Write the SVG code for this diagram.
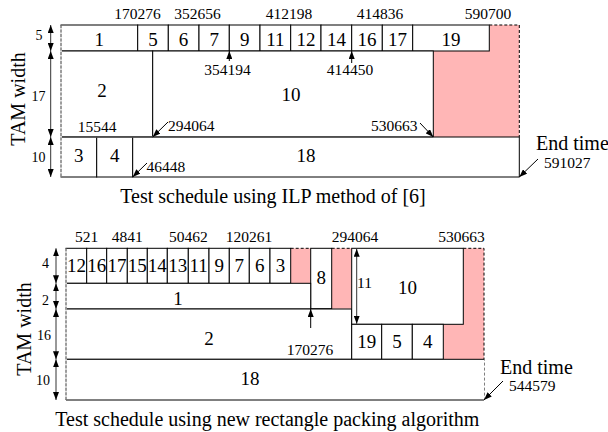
<svg xmlns="http://www.w3.org/2000/svg" width="608" height="432" viewBox="0 0 608 432">
  <style>
    text { font-family: "Liberation Serif", "Times New Roman", serif; fill: #000; }
    .lbl { font-size: 19px; text-anchor: middle; }
    .num { font-size: 15.5px; text-anchor: middle; }
    .numl { font-size: 15.5px; text-anchor: start; }
    .unit { font-size: 14px; text-anchor: middle; }
    .cap { font-size: 20px; text-anchor: middle; }
    .axis { font-size: 20px; text-anchor: middle; }
    .end { font-size: 20px; text-anchor: start; }
    .box { fill: #fff; stroke: #000; stroke-width: 1; }
    .idle { fill: #ffb6b6; stroke: none; }
    .dash { fill: none; stroke: #000; stroke-width: 1; stroke-dasharray: 3 2; }
    .edge { fill: none; stroke: #fff; stroke-width: 1.6; }
    .edge-dash { fill: none; stroke: #555; stroke-width: 1; stroke-dasharray: 3 1.5; }
    .seam { fill: none; stroke: #555; stroke-width: 1.6; }
    .dim { fill: none; stroke: #333; stroke-width: 1; marker-start: url(#head); marker-end: url(#head); }
    .ptr { fill: none; stroke: #000; stroke-width: 1; marker-end: url(#head); }
  </style>
  <defs>
    <marker id="head" markerUnits="userSpaceOnUse" markerWidth="8" markerHeight="6" refX="8" refY="3" orient="auto-start-reverse">
      <path d="M0,0 L8,3 L0,6 z" fill="#000"/>
    </marker>
  </defs>

  <!-- ===== Schedule 1: ILP method ===== -->
  <g id="ilp-idle">
    <polygon class="idle" points="489.3,25 519.3,25 519.3,137 433.3,137 433.3,51 489.3,51"/>
    <path class="dash" d="M489.3,25 H519.3 V137"/>
  </g>
  <g id="ilp-row5">
    <rect class="box" x="61" y="25" width="76.7" height="26"/>
    <rect class="box" x="137.7" y="25" width="30.6" height="26"/>
    <rect class="box" x="168.3" y="25" width="30.7" height="26"/>
    <rect class="box" x="199" y="25" width="30.3" height="26"/>
    <rect class="box" x="229.3" y="25" width="30.7" height="26"/>
    <rect class="box" x="260" y="25" width="30.7" height="26"/>
    <rect class="box" x="290.7" y="25" width="30.3" height="26"/>
    <rect class="box" x="321" y="25" width="30.7" height="26"/>
    <rect class="box" x="351.7" y="25" width="30.6" height="26"/>
    <rect class="box" x="382.3" y="25" width="30.4" height="26"/>
    <rect class="box" x="412.7" y="25" width="76.6" height="26"/>
    <text class="lbl" x="99.3" y="46">1</text>
    <text class="lbl" x="153" y="46">5</text>
    <text class="lbl" x="183.6" y="46">6</text>
    <text class="lbl" x="214.2" y="46">7</text>
    <text class="lbl" x="244.7" y="46">9</text>
    <text class="lbl" x="275.3" y="46">11</text>
    <text class="lbl" x="305.9" y="46">12</text>
    <text class="lbl" x="336.4" y="46">14</text>
    <text class="lbl" x="367" y="46">16</text>
    <text class="lbl" x="397.5" y="46">17</text>
    <text class="lbl" x="451" y="46">19</text>
  </g>
  <g id="ilp-core2">
    <rect class="box" x="61" y="51" width="91.7" height="86"/>
    <text class="lbl" x="102" y="97">2</text>
  </g>
  <g id="ilp-core10">
    <rect class="box" x="152.7" y="51" width="280.6" height="86"/>
    <text class="lbl" x="291" y="101">10</text>
  </g>
  <g id="ilp-row10">
    <rect class="box" x="61" y="137" width="35.7" height="40"/>
    <rect class="box" x="96.7" y="137" width="36" height="40"/>
    <path class="box" d="M132.7,137 H519.3 V177 H132.7 Z"/>
    <text class="lbl" x="78.8" y="162">3</text>
    <text class="lbl" x="114.7" y="162">4</text>
    <text class="lbl" x="306" y="162">18</text>
    <line class="seam" x1="61" y1="137" x2="433.3" y2="137"/>
  </g>
  <!-- time zero edge drawn as a light dashed line -->
  <g id="ilp-origin">
    <line class="edge" x1="61" y1="25.5" x2="61" y2="176.5"/>
    <line class="edge-dash" x1="61" y1="25" x2="61" y2="177"/>
  </g>
  <g id="ilp-times">
    <text class="num" x="137.5" y="19">170276</text>
    <text class="num" x="197.5" y="19">352656</text>
    <text class="num" x="289" y="19">412198</text>
    <text class="num" x="380" y="19">414836</text>
    <text class="num" x="488" y="19">590700</text>
    <text class="num" x="227.5" y="75">354194</text>
    <text class="num" x="350" y="75">414450</text>
    <text class="num" x="97" y="131.5">15544</text>
    <text class="numl" x="168" y="131">294064</text>
    <text class="numl" x="371" y="131">530663</text>
    <text class="numl" x="146.5" y="171.5">46448</text>
    <text class="end" x="536" y="150">End time</text>
    <text class="numl" x="544" y="168">591027</text>
  </g>
  <g id="ilp-axis">
    <text class="axis" transform="translate(25,99) rotate(-90)">TAM width</text>
    <text class="unit" x="39" y="40">5</text>
    <text class="unit" x="38.5" y="101">17</text>
    <text class="unit" x="38.5" y="162">10</text>
  </g>
  <text id="ilp-caption" class="cap" x="273" y="203">Test schedule using ILP method of [6]</text>

  <!-- ===== Schedule 2: rectangle packing ===== -->
  <g id="rp-idle">
    <rect class="idle" x="290.7" y="248.3" width="20" height="35"/>
    <rect class="idle" x="331.7" y="248.3" width="20" height="60.4"/>
    <polygon class="idle" points="463.3,248.3 484,248.3 484,359.3 443.3,359.3 443.3,324.3 463.3,324.3"/>
    <path class="dash" d="M290.7,248.3 H310.7 M331.7,248.3 H351.7 M463.3,248.3 H484 V400"/>
  </g>
  <g id="rp-row4">
    <rect class="box" x="66" y="248.3" width="20.7" height="35"/>
    <rect class="box" x="86.7" y="248.3" width="20" height="35"/>
    <rect class="box" x="106.7" y="248.3" width="20.6" height="35"/>
    <rect class="box" x="127.3" y="248.3" width="20" height="35"/>
    <rect class="box" x="147.3" y="248.3" width="20" height="35"/>
    <rect class="box" x="167.3" y="248.3" width="21" height="35"/>
    <rect class="box" x="188.3" y="248.3" width="20.7" height="35"/>
    <rect class="box" x="209" y="248.3" width="20.3" height="35"/>
    <rect class="box" x="229.3" y="248.3" width="20" height="35"/>
    <rect class="box" x="249.3" y="248.3" width="20.7" height="35"/>
    <rect class="box" x="270" y="248.3" width="20.7" height="35"/>
    <text class="lbl" x="76.4" y="271.7">12</text>
    <text class="lbl" x="96.7" y="271.7">16</text>
    <text class="lbl" x="117" y="271.7">17</text>
    <text class="lbl" x="137.3" y="271.7">15</text>
    <text class="lbl" x="157.3" y="271.7">14</text>
    <text class="lbl" x="177.8" y="271.7">13</text>
    <text class="lbl" x="198.7" y="271.7">11</text>
    <text class="lbl" x="219.2" y="271.7">9</text>
    <text class="lbl" x="239.3" y="271.7">7</text>
    <text class="lbl" x="259.7" y="271.7">6</text>
    <text class="lbl" x="280.4" y="271.7">3</text>
  </g>
  <g id="rp-core8">
    <rect class="box" x="310.7" y="248.3" width="21" height="60.4"/>
    <text class="lbl" x="321.2" y="284">8</text>
  </g>
  <g id="rp-core1">
    <rect class="box" x="66" y="283.3" width="244.7" height="25.7"/>
    <text class="lbl" x="178" y="305">1</text>
  </g>
  <g id="rp-core2">
    <rect class="box" x="66" y="309" width="285.7" height="50.3"/>
    <text class="lbl" x="209" y="345">2</text>
  </g>
  <g id="rp-core10">
    <rect class="box" x="351.7" y="248.3" width="111.6" height="76"/>
    <text class="lbl" x="407.5" y="294">10</text>
  </g>
  <g id="rp-row5">
    <rect class="box" x="351.7" y="324.3" width="30" height="35"/>
    <rect class="box" x="381.7" y="324.3" width="30.6" height="35"/>
    <rect class="box" x="412.3" y="324.3" width="31" height="35"/>
    <text class="lbl" x="366.7" y="348">19</text>
    <text class="lbl" x="397" y="348">5</text>
    <text class="lbl" x="427.8" y="348">4</text>
  </g>
  <g id="rp-core18">
    <path class="box" d="M484,400 H66 V359.3 H484"/>
    <text class="lbl" x="250" y="385">18</text>
  </g>
  <!-- time zero edge drawn as a light dashed line -->
  <g id="rp-origin">
    <line class="edge" x1="66" y1="248.8" x2="66" y2="399.5"/>
    <line class="edge-dash" x1="66" y1="248.3" x2="66" y2="400"/>
  </g>
  <g id="rp-times">
    <text class="num" x="86.7" y="242">521</text>
    <text class="num" x="127.3" y="242">4841</text>
    <text class="num" x="188.3" y="242">50462</text>
    <text class="num" x="249" y="242">120261</text>
    <text class="num" x="355" y="242">294064</text>
    <text class="num" x="461.5" y="242">530663</text>
    <text class="num" x="364.5" y="288.3">11</text>
    <text class="num" x="310" y="355">170276</text>
    <text class="end" x="500" y="374">End time</text>
    <text class="numl" x="509" y="390.5">544579</text>
  </g>
  <g id="rp-axis">
    <text class="axis" transform="translate(31,329) rotate(-90)">TAM width</text>
    <text class="unit" x="45.5" y="268">4</text>
    <text class="unit" x="45.5" y="305">2</text>
    <text class="unit" x="44" y="340">16</text>
    <text class="unit" x="43" y="385">10</text>
  </g>
  <text id="rp-caption" class="cap" x="267.3" y="426">Test schedule using new rectangle packing algorithm</text>

  <!-- ===== connectors: dimension arrows and time pointers ===== -->
  <g id="connectors">
    <line class="dim" x1="50.7" y1="25" x2="50.7" y2="51"/>
    <line class="dim" x1="50.7" y1="51" x2="50.7" y2="137"/>
    <line class="dim" x1="50.7" y1="137" x2="50.7" y2="177"/>
    <line class="ptr" x1="229.3" y1="61" x2="229.3" y2="51"/>
    <line class="ptr" x1="351.7" y1="63" x2="351.7" y2="51"/>
    <line class="ptr" x1="168" y1="122" x2="152.7" y2="137"/>
    <line class="ptr" x1="420" y1="123" x2="433.3" y2="137"/>
    <line class="ptr" x1="147" y1="163" x2="132.7" y2="177"/>
    <line class="ptr" x1="538" y1="159" x2="519.3" y2="177"/>

    <line class="dim" x1="56" y1="248.3" x2="56" y2="283.3"/>
    <line class="dim" x1="56" y1="283.3" x2="56" y2="309"/>
    <line class="dim" x1="56" y1="309" x2="56" y2="359.3"/>
    <line class="dim" x1="56" y1="359.3" x2="56" y2="400"/>
    <line class="dim" x1="356.7" y1="248.8" x2="356.7" y2="323.8"/>
    <line class="ptr" x1="310.7" y1="328" x2="310.7" y2="309"/>
    <line class="ptr" x1="503" y1="381" x2="484" y2="400"/>
  </g>
</svg>
